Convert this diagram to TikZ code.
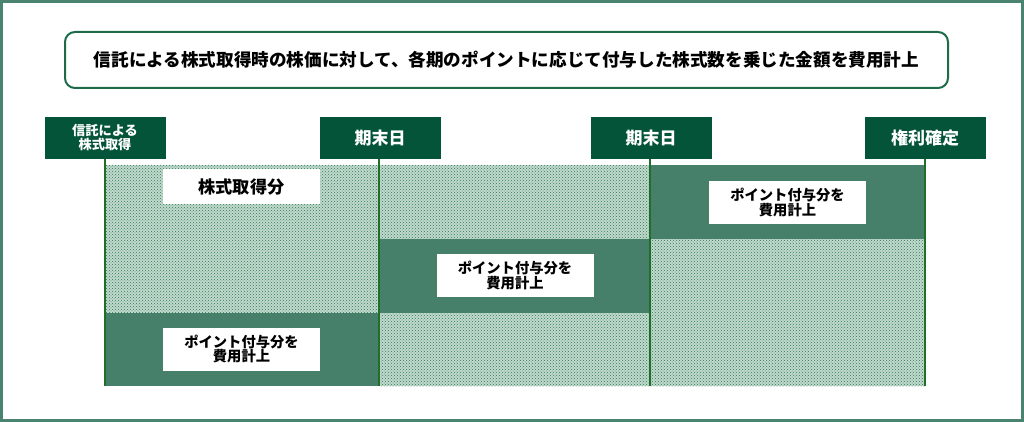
\documentclass[tikz,border=0pt]{standalone}
\usepackage{fontspec}
\setmainfont{Noto Sans CJK JP}
\usetikzlibrary{patterns}
\definecolor{frame}{HTML}{4A8470}
\definecolor{dkgreen}{HTML}{04543A}
\definecolor{titleline}{HTML}{1E6B4A}
\definecolor{solid}{HTML}{46806B}
\definecolor{vline}{HTML}{1F6F2A}
\definecolor{dotbg}{HTML}{C2D9CD}
\definecolor{dotfg}{HTML}{2E7A55}
\tikzset{
  tagbox/.style={fill=dkgreen, text=white, font=\bfseries\fontsize{17}{18}\selectfont, minimum width=121, minimum height=42, inner sep=0pt, align=center},
  smalltag/.style={tagbox, font=\bfseries\fontsize{13.2}{14}\selectfont},
  timeline/.style={draw=vline, line width=2.6pt},
  solidfill/.style={fill=solid},
  dotfill/.style={fill=dotbg},
  dotpat/.style={pattern=crosshatch dots, pattern color=dotfg},
  lbl/.style={fill=white, text=black, font=\bfseries\fontsize{14.3}{14.5}\selectfont, minimum width=157, minimum height=43, inner sep=0pt, align=center},
}
\begin{document}
\begin{tikzpicture}[x=1pt,y=-1pt]
\useasboundingbox (0,0) rectangle (1024,422);
\fill[white] (0,0) rectangle (1024,422);
\draw[frame, line width=3pt] (1.5,1.5) rectangle (1022.5,420.5);
% title
\node[draw=titleline, line width=2pt, rounded corners=10pt, minimum width=883, minimum height=56, inner sep=0pt, font=\bfseries\fontsize{17.6}{20}\selectfont] (title) at (506.5,60) {信託による株式取得時の株価に対して、各期のポイントに応じて付与した株式数を乗じた金額を費用計上};
% column 1
\fill[dotfill] (105,165) rectangle (379,313);
\fill[dotpat] (105,165) rectangle (379,313);
\fill[solidfill] (105,313) rectangle (379,386);
% column 2
\fill[dotfill] (379,165) rectangle (650,239);
\fill[dotpat] (379,165) rectangle (650,239);
\fill[solidfill] (379,239) rectangle (650,313);
\fill[dotfill] (379,313) rectangle (650,386);
\fill[dotpat] (379,313) rectangle (650,386);
% column 3
\fill[solidfill] (650,165) rectangle (925,239);
\fill[dotfill] (650,239) rectangle (925,386);
\fill[dotpat] (650,239) rectangle (925,386);
% tags
\node[smalltag] (t1) at (105,138) {信託による\\株式取得};
\node[tagbox] (t2) at (380,138) {期末日};
\node[tagbox] (t3) at (651,138) {期末日};
\node[tagbox] (t4) at (925,138) {権利確定};
\coordinate (e1) at (105,386);
\coordinate (e2) at (379,386);
\coordinate (e3) at (650,386);
\coordinate (e4) at (925,386);
\draw[timeline] (t1.south) -- (e1);
\draw[timeline] (t2.south -| e2) -- (e2);
\draw[timeline] (t3.south -| e3) -- (e3);
\draw[timeline] (t4.south) -- (e4);
% labels
\node[lbl, font=\bfseries\fontsize{17.2}{18}\selectfont, minimum height=35] (k1) at (241.5,186.5) {株式取得分};
\node[lbl] (p1) at (241.5,349) {ポイント付与分を\\費用計上};
\node[lbl] (p2) at (515,275.5) {ポイント付与分を\\費用計上};
\node[lbl] (p3) at (787.5,202.5) {ポイント付与分を\\費用計上};
\end{tikzpicture}
\end{document}
